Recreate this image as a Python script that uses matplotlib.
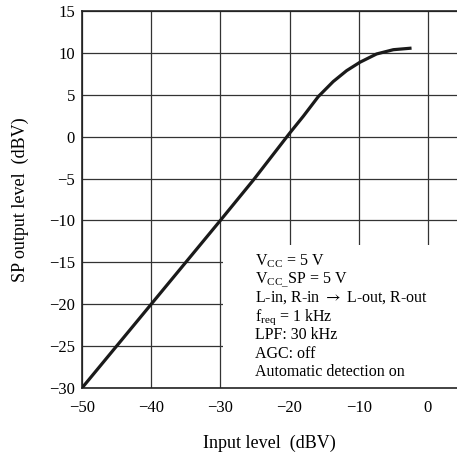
import matplotlib
matplotlib.use("Agg")
import matplotlib.pyplot as plt
from matplotlib.patches import Rectangle

# curve
input_level = [-50, -40, -30, -25.25, -20, -18.0, -15.85, -13.7, -11.75, -9.83, -7.42, -5.0, -2.6]
output_level = [-30, -20, -10, -5.2, 0.4, 2.45, 4.78, 6.57, 7.88, 8.88, 9.87, 10.38, 10.55]

x_ticks = [-50, -40, -30, -20, -10, 0]
y_ticks = [-30, -25, -20, -15, -10, -5, 0, 5, 10, 15]

notes = [
    r"V$_{\mathrm{CC}}$ = 5 V",
    r"V$_{\mathrm{CC\_}}$SP = 5 V",
    r"L-in, R-in $\rightarrow$ L-out, R-out",
    r"f$_{\mathrm{req}}$ = 1 kHz",
    "LPF: 30 kHz",
    "AGC: off",
    "Automatic detection on",
]

plt.rcParams['font.family'] = ['Liberation Serif', 'DejaVu Serif']
plt.rcParams['mathtext.fontset'] = 'custom'
plt.rcParams['mathtext.rm'] = 'Liberation Serif'

fig = plt.figure(figsize=(4.57, 4.54), dpi=100)
ax = fig.add_axes([0.1794, 0.1454, 0.8206, 0.8304])

ax.set_axisbelow(True)
ax.grid(True, color='#333333', linewidth=0.9)
ax.plot(input_level, output_level, color='#1a1a1a', linewidth=2.3, zorder=3,
        solid_joinstyle='round')

# white box behind the notes
ax.add_patch(Rectangle((-29.6, -30), 40, 17.1, facecolor='white',
                       edgecolor='none', zorder=1))
for i, line in enumerate(notes):
    mf = 'stix' if 'rightarrow' in line else 'custom'
    ax.text(-25.0, -15.3 - 2.22 * i, line, fontsize=11.5, va='baseline',
            ha='left', zorder=4, math_fontfamily=mf)

ax.set_xlim(-50, 4.2)
ax.set_ylim(-30, 15)
ax.set_xticks(x_ticks)
ax.set_yticks(y_ticks)
ax.set_xticklabels([str(t).replace('-', '\u2212') for t in x_ticks])
ax.set_yticklabels([str(t).replace('-', '\u2212') for t in y_ticks])
ax.tick_params(length=0, labelsize=12)
ax.tick_params(axis='x', pad=9)
ax.tick_params(axis='y', pad=5)
ax.spines['right'].set_visible(False)
for s in ['left', 'bottom', 'top']:
    ax.spines[s].set_linewidth(1.2)
    ax.spines[s].set_color('#222222')

ax.set_xlabel('Input level  (dBV)', fontsize=13, labelpad=13)
ax.set_ylabel('SP output level  (dBV)', fontsize=13, labelpad=14)

fig.savefig('out.png', dpi=100)
